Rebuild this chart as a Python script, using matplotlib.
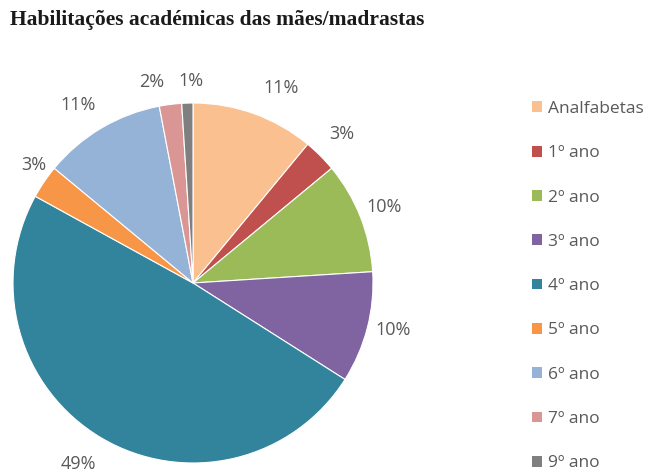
import matplotlib
matplotlib.use("Agg")
import numpy as np
import matplotlib.pyplot as plt
from matplotlib.patches import Patch

categories = ["Analfabetas", "1º ano", "2º ano", "3º ano", "4º ano",
              "5º ano", "6º ano", "7º ano", "9º ano"]
values = [11, 3, 10, 10, 49, 3, 11, 2, 1]
colors = ["#FAC090", "#C0504D", "#9BBB59", "#8064A2", "#31849B",
          "#F79646", "#95B3D7", "#D99694", "#7F7F7F"]

# small nudges of the % labels so they sit like in the original
label_dist = [1.19, 1.17, 1.14, 1.14, 1.19, 1.10, 1.18, 1.14, 1.12]
label_turn = [-4.6, 0, 0, 1.2, -1.8, -2.4, 2.3, 4.4, -1.3]

fig = plt.figure(figsize=(6.6, 4.74), dpi=100)
fig.text(0.015, 0.957, "Habilitações académicas das mães/madrastas",
         family="Liberation Serif", fontweight="bold", fontsize=15.5,
         va="center", ha="left", color="#1a1a1a")

ax = fig.add_axes([13 / 660, 11 / 474, 360 / 660, 360 / 474])
wedges, texts, autotexts = ax.pie(
    values, colors=colors, startangle=90, counterclock=False,
    autopct="%d%%", pctdistance=1.16,
    wedgeprops=dict(edgecolor="white", linewidth=0.8),
    textprops=dict(color="#595959", fontsize=13, family="Open Sans"),
)
for w, t, d, turn in zip(wedges, autotexts, label_dist, label_turn):
    ang = np.deg2rad((w.theta1 + w.theta2) / 2 + turn)
    t.set_position((d * np.cos(ang), d * np.sin(ang)))
ax.set_xlim(-1, 1)
ax.set_ylim(-1, 1)
ax.set_aspect("equal")

handles = [Patch(facecolor=c, edgecolor="none") for c in colors]
fig.legend(handles, categories, loc="upper left",
           bbox_to_anchor=(532 / 660, 1 - 101 / 474),
           borderaxespad=0, borderpad=0,
           frameon=False, prop=dict(family="Open Sans", size=12.5),
           labelcolor="#595959", handlelength=0.58, handleheight=0.58,
           handletextpad=0.35, labelspacing=1.63)

fig.savefig("out.png", dpi=100)
